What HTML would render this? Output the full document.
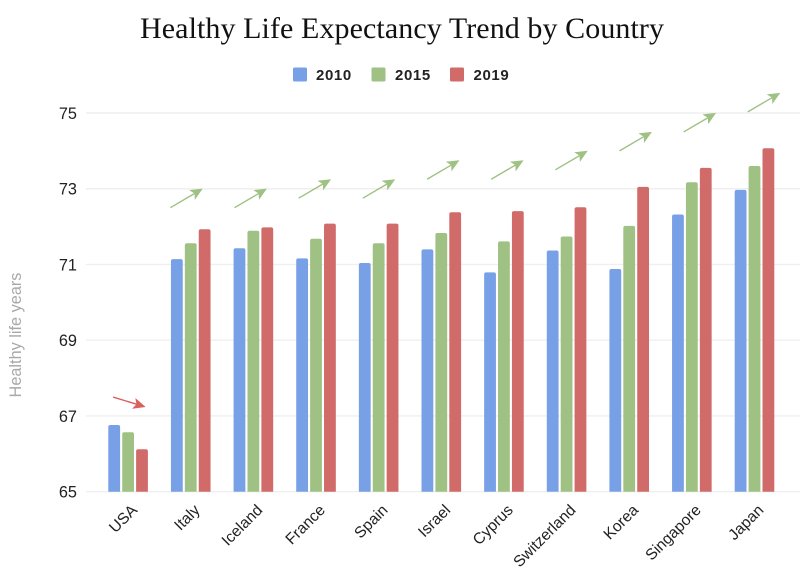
<!DOCTYPE html>
<html>
<head>
<meta charset="utf-8">
<title>Healthy Life Expectancy Trend by Country</title>
<style>
html,body{margin:0;padding:0;background:#fff;width:800px;height:581px;overflow:hidden}
svg{display:block;filter:blur(0.35px)}
text{font-family:"Liberation Sans",sans-serif}
</style>
</head>
<body>
<svg id="chart" xmlns="http://www.w3.org/2000/svg" width="800" height="581" viewBox="0 0 800 581">
<text x="402" y="38" text-anchor="middle" style="font-family:'Liberation Serif',serif;font-size:30px" fill="#111" textLength="524" lengthAdjust="spacing">Healthy Life Expectancy Trend by Country</text>
<text transform="translate(21,335) rotate(-90)" text-anchor="middle" font-size="16.3" fill="#a8a8a8">Healthy life years</text>
<g>
<g>
<rect x="293" y="67.5" width="14" height="14" rx="1.5" fill="#78a0e6"/>
<text x="316" y="80" font-size="15" font-weight="bold" letter-spacing="0.6" fill="#222">2010</text>
</g>
<g>
<rect x="371.5" y="67.5" width="14" height="14" rx="1.5" fill="#9fc184"/>
<text x="395" y="80" font-size="15" font-weight="bold" letter-spacing="0.6" fill="#222">2015</text>
</g>
<g>
<rect x="450" y="67.5" width="14" height="14" rx="1.5" fill="#d06b69"/>
<text x="473.5" y="80" font-size="15" font-weight="bold" letter-spacing="0.6" fill="#222">2019</text>
</g>
</g>
<g id="grid"></g>
<g id="bars"></g>
<g id="arrows"></g>
<g id="xlabels"></g>
</svg>
<script>
const categories = ["USA","Italy","Iceland","France","Spain","Israel","Cyprus","Switzerland","Korea","Singapore","Japan"];
const values2010 = [66.76,71.14,71.43,71.16,71.04,71.40,70.79,71.37,70.88,72.32,72.97];
const values2015 = [66.57,71.56,71.89,71.68,71.56,71.83,71.61,71.74,72.02,73.17,73.60];
const values2019 = [66.12,71.93,71.98,72.08,72.08,72.38,72.41,72.51,73.05,73.55,74.07];
const yTicks = [65,67,69,71,73,75];
const arrowLevels = [67.5,72.5,72.5,72.75,72.75,73.25,73.25,73.5,74.0,74.5,75.03];
const arrowDirections = ["down","up","up","up","up","up","up","up","up","up","up"];

const seriesColors = ["#78a0e6","#9fc184","#d06b69"];
const seriesNames = ["2010","2015","2019"];
const allSeries = [values2010, values2015, values2019];
const SVGNS = "http://www.w3.org/2000/svg";

function yScale(v){ return 491.7 - (v - 65) * 37.87; }
function groupCenter(i){ return 128.1 + i * 62.64; }
function make(tag, attrs, parent){
  const el = document.createElementNS(SVGNS, tag);
  for (const k in attrs) el.setAttribute(k, attrs[k]);
  parent.appendChild(el);
  return el;
}

const gridG = document.getElementById("grid");
yTicks.forEach(function(t){
  const line = make("line", {x1:86, x2:800, y1:yScale(t), y2:yScale(t), stroke:"#efefef", "stroke-width":1.4}, gridG);
  
  
  const label = make("text", {x:77, y:yScale(t)+6, "text-anchor":"end", "font-size":16.3, fill:"#222"}, gridG);
  
  
  label.textContent = t;
});

const barsG = document.getElementById("bars");
const barWidth = 11.8, barStep = 13.9, radius = 2;
categories.forEach(function(c, i){
  allSeries.forEach(function(series, s){
    const x = groupCenter(i) + (s - 1) * barStep - barWidth / 2;
    const top = yScale(series[i]);
    const base = yScale(65);
    const d = "M" + x + " " + base + "V" + (top + radius) +
      "Q" + x + " " + top + " " + (x + radius) + " " + top +
      "H" + (x + barWidth - radius) +
      "Q" + (x + barWidth) + " " + top + " " + (x + barWidth) + " " + (top + radius) +
      "V" + base + "Z";
    const bar = make("path", {d:d, fill:seriesColors[s]}, barsG);
    
    
  });
});

const arrowsG = document.getElementById("arrows");
categories.forEach(function(c, i){
  const up = arrowDirections[i] === "up";
  const color = up ? "#9fc184" : "#d9605c";
  const x1 = groupCenter(i) + (up ? -20.4 + 1.53 * (i - 1) : -15);
  const y1 = yScale(arrowLevels[i]);
  const dx = up ? 32.4 : 32.5;
  const dy = up ? -19 : 10;
  const x2 = x1 + dx, y2 = y1 + dy;
  const len = Math.sqrt(dx * dx + dy * dy), ux = dx / len, uy = dy / len;
  const hl = 12.5, hw = 5.6, notch = 9.5;
  const bx = x2 - ux * hl, by = y2 - uy * hl;
  const nx = x2 - ux * notch, ny = y2 - uy * notch;
  const g = make("g", {}, arrowsG);
  
  
  make("line", {x1:x1, y1:y1, x2:nx, y2:ny, stroke:color, "stroke-width":1.4}, g);
  make("polygon", {points:x2 + "," + y2 + " " + (bx - uy * hw) + "," + (by + ux * hw) + " " + nx + "," + ny + " " + (bx + uy * hw) + "," + (by - ux * hw), fill:color}, g);
});

const xG = document.getElementById("xlabels");
categories.forEach(function(c, i){
  const x = groupCenter(i) + 10;
  const label = make("text", {transform:"translate(" + x + ",511) rotate(-45)", "text-anchor":"end", "font-size":15.6, fill:"#222"}, xG);
  
  
  label.textContent = c;
});
</script>
</body>
</html>
